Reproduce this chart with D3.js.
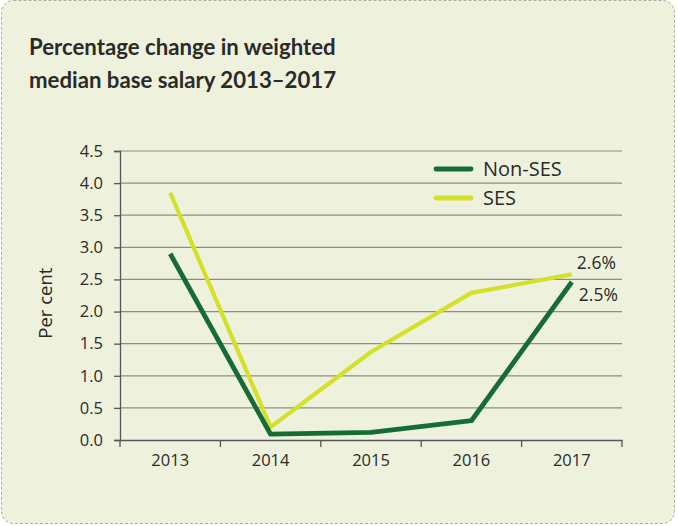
<!DOCTYPE html>
<html>
<head>
  <meta charset="utf-8">
  <title>Percentage change in weighted median base salary</title>
  <script src="https://d3js.org/d3.v7.min.js"></script>
  <style>
    body { margin: 0; background: #ffffff; }
    svg text { font-family: "Open Sans", "Lato", sans-serif; fill: #2a2a2a; }
  </style>
</head>
<body>
  <div id="chart"></div>
  <script>
    // data
    const years = ["2013", "2014", "2015", "2016", "2017"];
    const nonSes = [2.9, 0.09, 0.12, 0.3, 2.46];
    const ses = [3.85, 0.2, 1.37, 2.29, 2.58];
    const yTicks = [0, 0.5, 1, 1.5, 2, 2.5, 3, 3.5, 4, 4.5];
    const endLabels = ["2.5%", "2.6%"];

    const width = 678, height = 526;
    const margin = { top: 151, right: 56, bottom: 86, left: 120 };

    const svg = d3.select("#chart").append("svg")
      .attr("width", width)
      .attr("height", height);

    // panel
    svg.append("rect")
      .attr("x", 1.5).attr("y", 0.5)
      .attr("width", 673).attr("height", 523)
      .attr("rx", 12)
      .attr("fill", "#eef2dc")
      .attr("stroke", "#9fb59c")
      .attr("stroke-dasharray", "3,2");

    // title
    const title = svg.append("text")
      .attr("x", 29).attr("y", 55)
      .style("font-family", "Lato, sans-serif")
      .style("font-size", "22.2px")
      .style("font-weight", 700);
    title.append("tspan").text("Percentage change in weighted");
    title.append("tspan").attr("x", 29).attr("dy", 33).text("median base salary 2013\u20132017");

    const x = d3.scaleBand()
      .domain(years)
      .range([margin.left, width - margin.right]);

    const y = d3.scaleLinear()
      .domain([0, 4.5])
      .range([height - margin.bottom, margin.top]);

    // gridlines
    svg.append("g")
      .selectAll("line")
      .data(yTicks.filter(d => d > 0))
      .join("line")
      .attr("x1", margin.left).attr("x2", width - margin.right)
      .attr("y1", d => y(d)).attr("y2", d => y(d))
      .attr("stroke", "#8c8c86")
      .attr("stroke-width", 1.2);

    // y axis
    const yAxis = svg.append("g")
      .attr("transform", `translate(${margin.left},0)`)
      .call(d3.axisLeft(y).tickValues(yTicks).tickFormat(d3.format(".1f")).tickSize(6).tickPadding(11));
    yAxis.selectAll("line, path").attr("stroke", "#555").attr("stroke-width", 1.3);
    yAxis.selectAll("text").style("font-size", "16.5px").attr("fill", "#2a2a2a");

    // x axis
    const xAxis = svg.append("g")
      .attr("transform", `translate(0,${height - margin.bottom})`)
      .call(d3.axisBottom(x).tickSize(0).tickPadding(14));
    xAxis.select("path").attr("stroke", "#555").attr("stroke-width", 1.3);
    xAxis.selectAll("text").style("font-size", "16.5px").attr("fill", "#2a2a2a");
    // ticks at band edges
    xAxis.selectAll(".edge")
      .data(years.map(d => x(d)).concat([width - margin.right]))
      .join("line")
      .attr("class", "edge")
      .attr("x1", d => d).attr("x2", d => d)
      .attr("y1", 0).attr("y2", 7)
      .attr("stroke", "#555").attr("stroke-width", 1.3);

    // y title
    svg.append("text")
      .attr("transform", `translate(52,${y(2.13)}) rotate(-90)`)
      .attr("text-anchor", "middle")
      .style("font-size", "18.5px")
      .text("Per cent");

    // lines
    const line = d3.line()
      .x((d, i) => x(years[i]) + x.bandwidth() / 2)
      .y(d => y(d));

    svg.append("path")
      .datum(ses)
      .attr("d", line)
      .attr("fill", "none")
      .attr("stroke", "#d5e02b")
      .attr("stroke-width", 4.2)
      .attr("stroke-linejoin", "round");

    svg.append("path")
      .datum(nonSes)
      .attr("d", line)
      .attr("fill", "none")
      .attr("stroke", "#176c35")
      .attr("stroke-width", 4.8)
      .attr("stroke-linejoin", "round");

    // end labels
    const lastX = x(years[4]) + x.bandwidth() / 2;
    svg.append("text")
      .attr("x", lastX + 5).attr("y", y(ses[4]) - 5)
      .style("font-size", "17.5px")
      .text(endLabels[1]);
    svg.append("text")
      .attr("x", lastX + 7).attr("y", y(nonSes[4]) + 19)
      .style("font-size", "17.5px")
      .text(endLabels[0]);

    // legend
    const legend = svg.append("g");
    const items = [["Non-SES", "#176c35"], ["SES", "#d5e02b"]];
    items.forEach((it, i) => {
      const ly = 169 + i * 29;
      legend.append("line")
        .attr("x1", 436).attr("x2", 471)
        .attr("y1", ly).attr("y2", ly)
        .attr("stroke", it[1])
        .attr("stroke-width", 4.8)
        .attr("stroke-linecap", "round");
      legend.append("text")
        .attr("x", 483).attr("y", ly + 7)
        .style("font-size", "20px")
        .text(it[0]);
    });
  </script>
</body>
</html>
